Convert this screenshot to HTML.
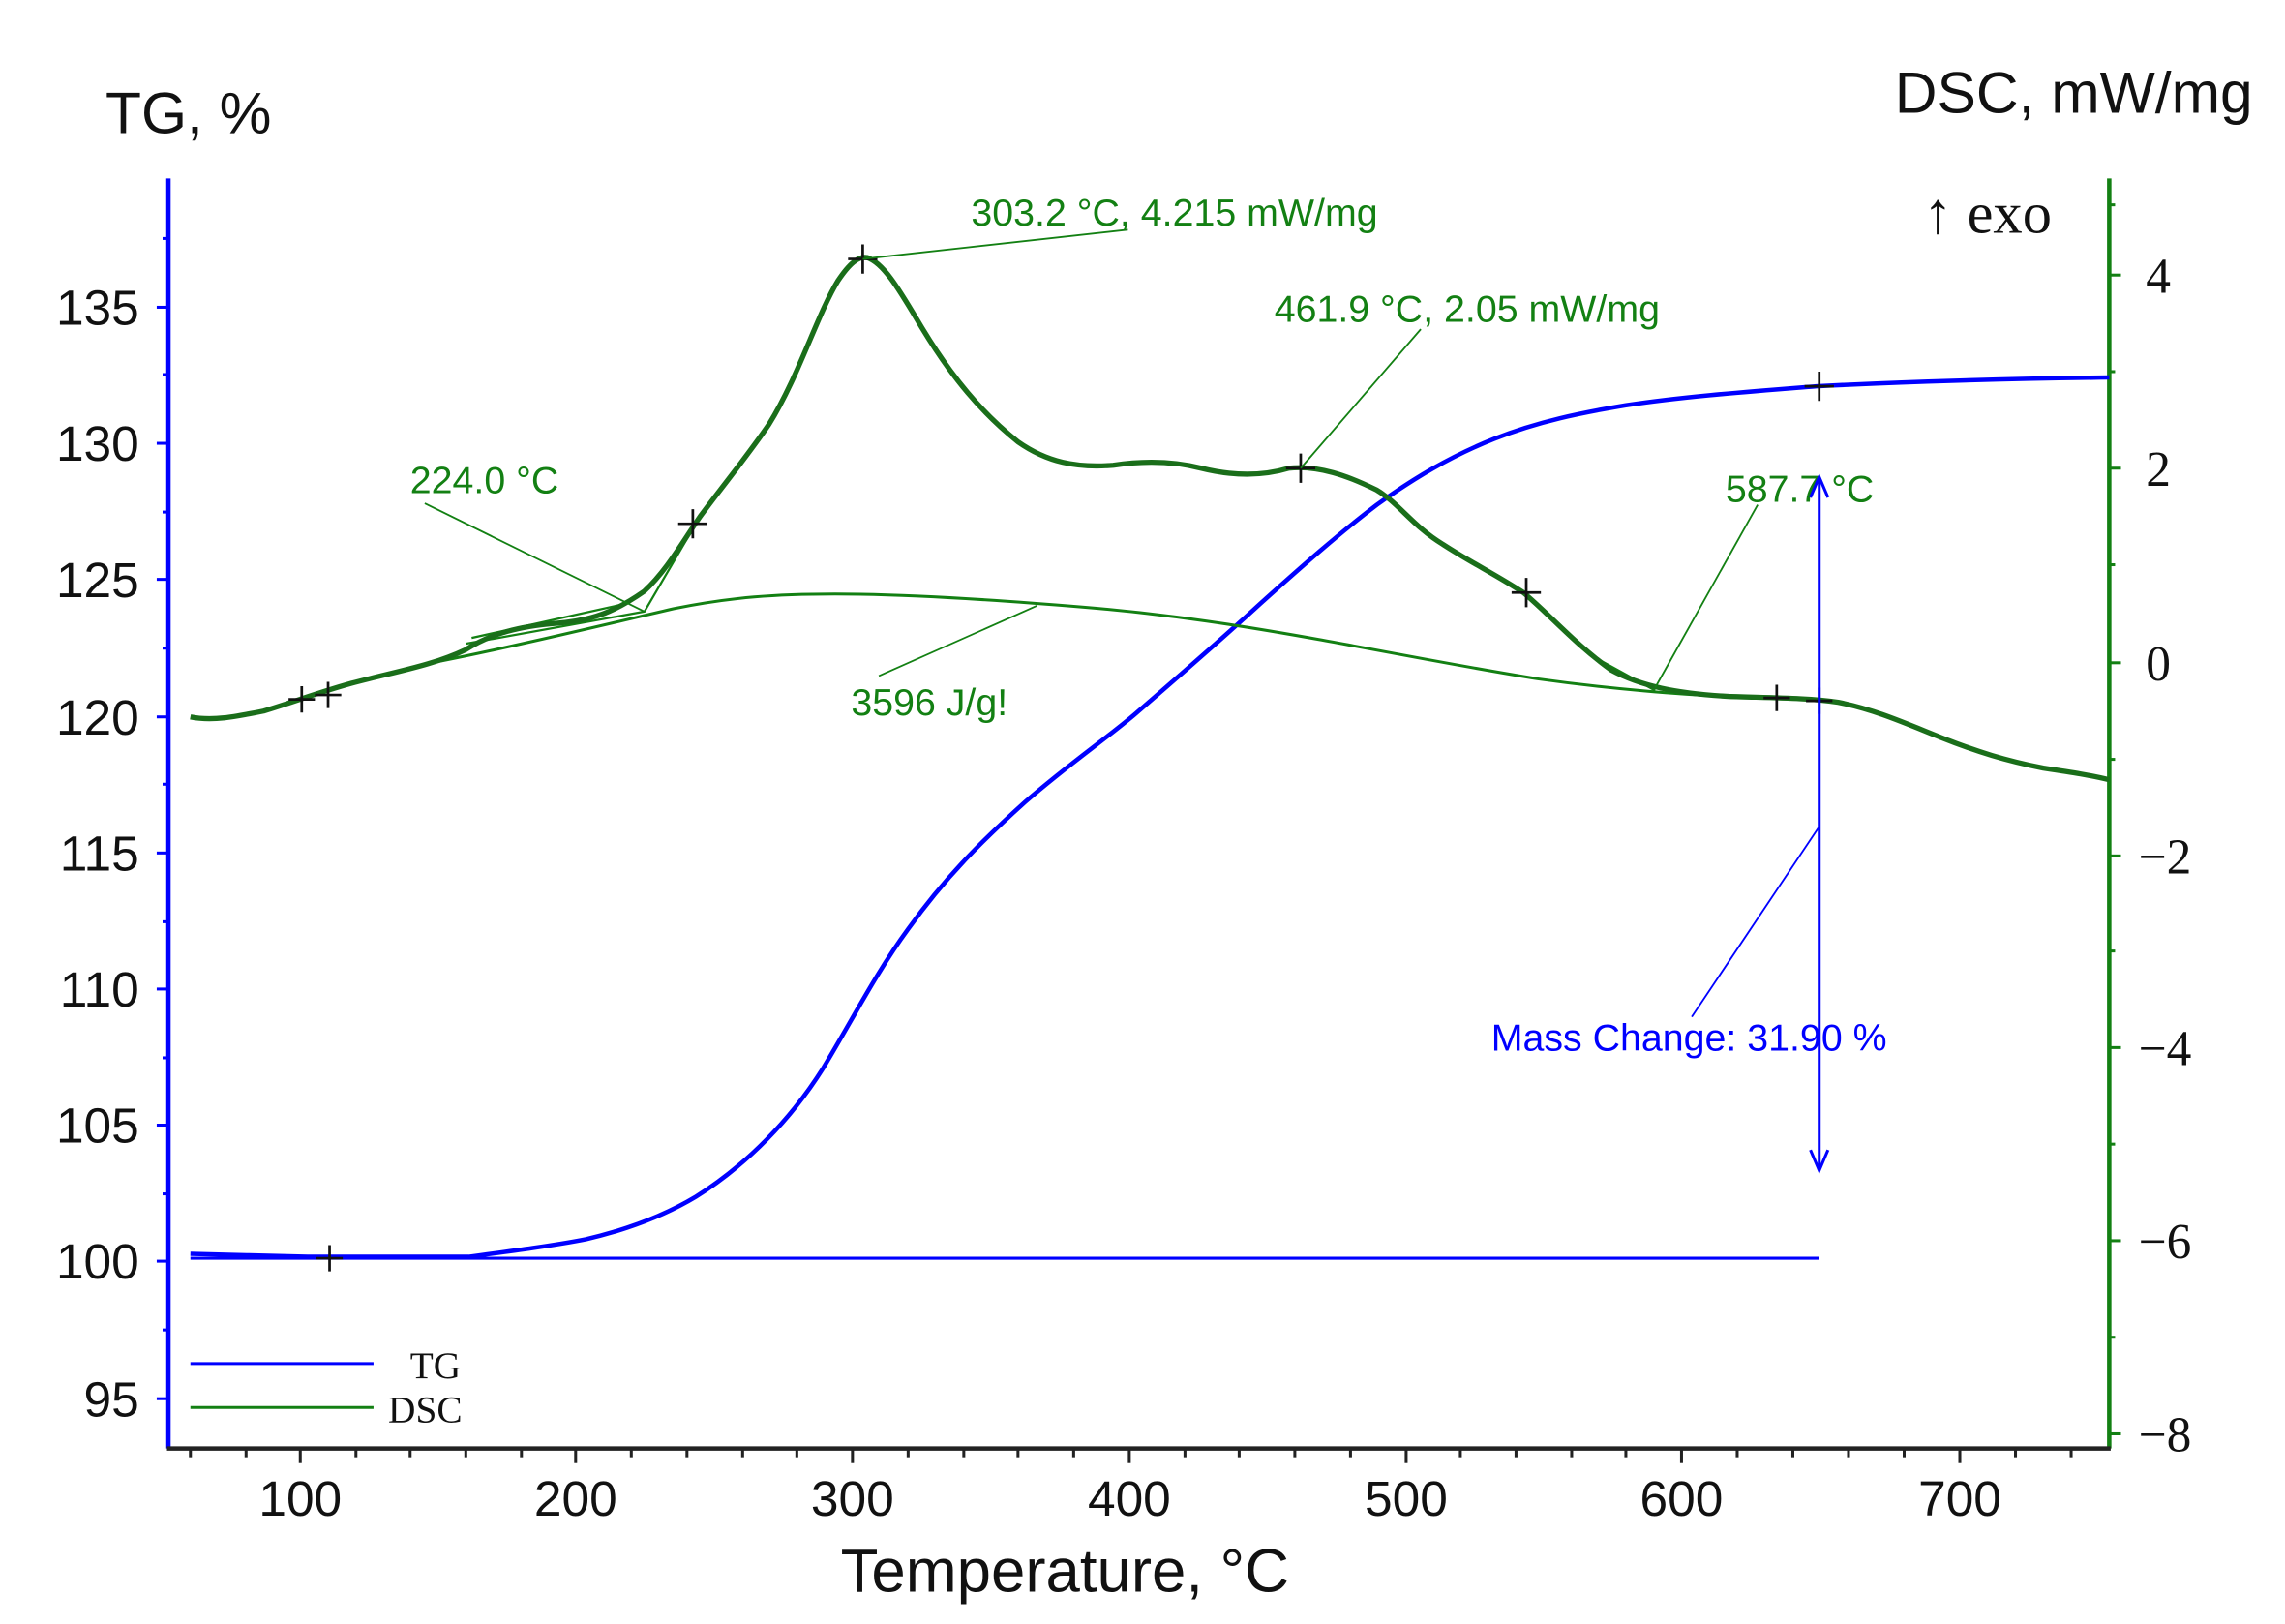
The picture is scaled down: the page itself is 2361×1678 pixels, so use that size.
<!DOCTYPE html>
<html><head><meta charset="utf-8"><style>html,body{margin:0;padding:0;background:#fff;}svg{display:block}</style></head>
<body>
<svg width="2361" height="1678" viewBox="0 0 1560 1110" preserveAspectRatio="none" xmlns="http://www.w3.org/2000/svg">
<rect width="1560" height="1110" fill="#fff"/>
<g font-family="Liberation Sans, sans-serif">
<line x1="115" y1="122" x2="115" y2="990" stroke="#0000ff" stroke-width="3"/>
<line x1="1440" y1="122" x2="1440" y2="990" stroke="#138013" stroke-width="3"/>
<line x1="114" y1="990" x2="1441" y2="990" stroke="#222" stroke-width="3"/>
<g stroke="#222" stroke-width="2">
<line x1="130" y1="990" x2="130" y2="996"/><line x1="168" y1="990" x2="168" y2="996"/>
<line x1="205" y1="990" x2="205" y2="1000"/><line x1="243" y1="990" x2="243" y2="996"/><line x1="280" y1="990" x2="280" y2="996"/><line x1="318" y1="990" x2="318" y2="996"/><line x1="356" y1="990" x2="356" y2="996"/>
<line x1="393" y1="990" x2="393" y2="1000"/><line x1="431" y1="990" x2="431" y2="996"/><line x1="469" y1="990" x2="469" y2="996"/><line x1="507" y1="990" x2="507" y2="996"/><line x1="544" y1="990" x2="544" y2="996"/>
<line x1="582" y1="990" x2="582" y2="1000"/><line x1="620" y1="990" x2="620" y2="996"/><line x1="658" y1="990" x2="658" y2="996"/><line x1="695" y1="990" x2="695" y2="996"/><line x1="733" y1="990" x2="733" y2="996"/>
<line x1="771" y1="990" x2="771" y2="1000"/><line x1="809" y1="990" x2="809" y2="996"/><line x1="846" y1="990" x2="846" y2="996"/><line x1="884" y1="990" x2="884" y2="996"/><line x1="922" y1="990" x2="922" y2="996"/>
<line x1="960" y1="990" x2="960" y2="1000"/><line x1="997" y1="990" x2="997" y2="996"/><line x1="1035" y1="990" x2="1035" y2="996"/><line x1="1073" y1="990" x2="1073" y2="996"/><line x1="1110" y1="990" x2="1110" y2="996"/>
<line x1="1148" y1="990" x2="1148" y2="1000"/><line x1="1186" y1="990" x2="1186" y2="996"/><line x1="1224" y1="990" x2="1224" y2="996"/><line x1="1262" y1="990" x2="1262" y2="996"/><line x1="1300" y1="990" x2="1300" y2="996"/>
<line x1="1338" y1="990" x2="1338" y2="1000"/><line x1="1376" y1="990" x2="1376" y2="996"/><line x1="1414" y1="990" x2="1414" y2="996"/>
</g>
<g stroke="#0000ff" stroke-width="2">
<line x1="107" y1="210" x2="115" y2="210"/><line x1="107" y1="303" x2="115" y2="303"/><line x1="107" y1="396" x2="115" y2="396"/><line x1="107" y1="490" x2="115" y2="490"/><line x1="107" y1="583" x2="115" y2="583"/><line x1="107" y1="676" x2="115" y2="676"/><line x1="107" y1="769" x2="115" y2="769"/><line x1="107" y1="862" x2="115" y2="862"/><line x1="107" y1="956" x2="115" y2="956"/>
<line x1="111" y1="163" x2="115" y2="163"/><line x1="111" y1="256" x2="115" y2="256"/><line x1="111" y1="350" x2="115" y2="350"/><line x1="111" y1="443" x2="115" y2="443"/><line x1="111" y1="536" x2="115" y2="536"/><line x1="111" y1="630" x2="115" y2="630"/><line x1="111" y1="723" x2="115" y2="723"/><line x1="111" y1="816" x2="115" y2="816"/><line x1="111" y1="909" x2="115" y2="909"/>
</g>
<g stroke="#138013" stroke-width="2">
<line x1="1440" y1="188" x2="1448" y2="188"/><line x1="1440" y1="320" x2="1448" y2="320"/><line x1="1440" y1="453" x2="1448" y2="453"/><line x1="1440" y1="585" x2="1448" y2="585"/><line x1="1440" y1="716" x2="1448" y2="716"/><line x1="1440" y1="848" x2="1448" y2="848"/><line x1="1440" y1="980" x2="1448" y2="980"/>
<line x1="1440" y1="254" x2="1444" y2="254"/><line x1="1440" y1="386" x2="1444" y2="386"/><line x1="1440" y1="519" x2="1444" y2="519"/><line x1="1440" y1="650" x2="1444" y2="650"/><line x1="1440" y1="782" x2="1444" y2="782"/><line x1="1440" y1="914" x2="1444" y2="914"/><line x1="1440" y1="140" x2="1444" y2="140"/>
</g>
<g font-size="34" fill="#111" text-anchor="end">
<text x="95" y="222">135</text><text x="95" y="315">130</text><text x="95" y="408">125</text><text x="95" y="502">120</text><text x="95" y="595">115</text><text x="95" y="688">110</text><text x="95" y="781">105</text><text x="95" y="874">100</text><text x="95" y="968">95</text>
</g>
<g font-size="34" fill="#111" text-anchor="middle">
<text x="205" y="1036">100</text><text x="393" y="1036">200</text><text x="582" y="1036">300</text><text x="771" y="1036">400</text><text x="960" y="1036">500</text><text x="1148" y="1036">600</text><text x="1338" y="1036">700</text>
</g>
<g font-family="Liberation Serif, serif" font-size="34" fill="#111">
<text x="1465" y="200">4</text><text x="1465" y="332">2</text><text x="1465" y="465">0</text><text x="1460" y="597">−2</text><text x="1460" y="728">−4</text><text x="1460" y="860">−6</text><text x="1460" y="992">−8</text>
<text x="1313" y="159" font-size="40">↑ exo</text>
<text x="280" y="942" font-size="26">TG</text><text x="265" y="972" font-size="26">DSC</text>
</g>
<text x="72" y="91" font-size="40" fill="#111">TG, %</text>
<text x="1538" y="77" font-size="40" fill="#111" text-anchor="end">DSC, mW/mg</text>
<text x="727" y="1088" font-size="42" fill="#111" text-anchor="middle">Temperature, °C</text>
<line x1="130" y1="932" x2="255" y2="932" stroke="#0000ff" stroke-width="2"/>
<line x1="130" y1="962" x2="255" y2="962" stroke="#138013" stroke-width="2"/>
<line x1="130" y1="860" x2="1242" y2="860" stroke="#0000ff" stroke-width="2"/>
<path d="M130,857 L170,858 L210,859 L320,859 C350,855 380,851 400,847 C430,840 455,830 475,818 C510,796 540,765 562,730 C582,697 598,665 620,635 C645,600 670,575 700,548 C730,522 755,505 775,488 C805,462 835,436 860,413 C890,386 915,362 940,342 C965,322 990,305 1020,312 M940,342 C970,318 995,300 1025,309" fill="none" stroke="none"/>
<path d="M130,857 L170,858 L210,859 L320,859 C350,855 380,851 400,847 C430,840 455,830 475,818 C510,796 540,765 562,730 C582,697 598,665 620,635 C645,600 670,575 700,548 C730,522 755,505 775,488 C805,462 835,436 860,413 C890,386 915,362 940,342 C965,322 990,305 1020,311 " fill="none" stroke="none"/>
<path d="M130,857 L170,858 L210,859 L320,859 C350,855 380,851 400,847 C430,840 455,830 475,818 C510,796 540,765 562,730 C582,697 598,665 620,635 C645,600 670,575 700,548 C730,522 755,505 775,488 C805,462 835,436 860,413 C890,386 915,362 940,342 C965,322 990,304 1020,310 " fill="none" stroke="none"/>
<path d="M130,857 L170,858 L210,859 L320,859 C350,855 380,851 400,847 C430,840 455,830 475,818 C510,796 540,765 562,730 C582,697 598,665 620,635 C645,600 670,575 700,548 C730,522 755,505 775,488 C805,462 835,436 860,413 C890,386 915,362 940,342 C965,322 990,326 1010,318 C1035,302 1060,292 1090,283 C1120,276 1150,271 1190,268 C1220,266 1240,264 1270,262 C1330,259 1380,258 1440,258" fill="none" stroke="none"/>
<path d="M130,857 L170,858 L210,859 L320,859 C350,855 380,851 400,847 C430,840 455,830 475,818 C510,796 540,765 562,730 C582,697 598,665 620,635 C645,600 670,575 700,548 C730,522 755,505 775,488 C805,462 835,436 860,413 C890,386 915,362 940,342 C965,323 985,308 1010,318 " fill="none" stroke="none"/>
<path d="M130,857 L170,858 L210,859 L320,859 C350,855 380,851 400,847 C430,840 455,830 475,818 C510,796 540,765 562,730 C582,697 598,665 620,635 C645,600 670,575 700,548 C730,522 755,505 775,488 C805,462 835,436 860,413 C890,386 915,364 940,345 C965,327 990,312 1020,300 C1050,288 1080,282 1110,277 C1150,271 1190,268 1240,264 C1300,261 1360,259 1440,258" fill="none" stroke="#0000ff" stroke-width="3"/>
<path d="M300,452 C350,442 400,430 460,416 C500,408 530,406 570,406 C620,406 680,410 740,415 C800,420 850,428 900,437 C950,446 1000,456 1050,464 C1100,471 1150,475 1180,476" fill="none" stroke="#138013" stroke-width="2"/>
<path d="M318,440 L440,418 L475,358 M322,436 L430,412 M1040,405 L1090,450 L1130,472" fill="none" stroke="#138013" stroke-width="1.5"/>
<path d="M130,490 C145,493 160,490 180,486 C200,480 215,474 240,467 C270,459 295,455 318,444 C335,433 355,428 380,426 C405,424 420,418 440,404 C455,390 465,372 478,353 C495,330 510,312 525,290 C545,258 558,215 572,192 C580,180 586,175 592,176 C604,180 615,200 630,225 C650,258 670,282 695,302 C715,316 735,320 760,318 C780,315 800,315 820,320 C840,325 860,326 880,320 C900,318 920,325 940,335 C955,344 965,360 985,372 C1005,385 1020,392 1040,405 C1058,420 1075,440 1100,458 C1120,469 1145,474 1180,476 C1210,477 1235,477 1255,480 C1280,485 1300,494 1325,504 C1350,514 1370,520 1395,525 C1415,528 1428,530 1440,533" fill="none" stroke="#1a6e1a" stroke-width="3.5"/>
<g stroke="#111" stroke-width="1.8">
<path d="M197,478h18M206,469v18"/><path d="M215,475h18M224,466v18"/><path d="M463,358h20M473,348v20"/><path d="M579,177h20M589,167v20"/><path d="M878,320h20M888,310v20"/><path d="M1032,405h20M1042,395v20"/><path d="M1204,477h18M1213,468v18"/><path d="M1233,479h18M1242,470v18"/><path d="M1232,264h20M1242,254v20"/><path d="M216,860h18M225,851v18"/>
</g>
<g stroke="#138013" stroke-width="1.2" fill="none">
<line x1="589" y1="177" x2="770" y2="157"/><line x1="888" y1="320" x2="970" y2="225"/><line x1="290" y1="344" x2="440" y2="418"/><line x1="600" y1="462" x2="708" y2="414"/><line x1="1130" y1="470" x2="1200" y2="345"/>
</g>
<g font-size="26" fill="#138013">
<text x="663" y="154">303.2 °C, 4.215 mW/mg</text>
<text x="870" y="220">461.9 °C, 2.05 mW/mg</text>
<text x="280" y="337">224.0 °C</text>
<text x="581" y="489">3596 J/g!</text>
<text x="1178" y="343">587.7 °C</text>
</g>
<line x1="1242" y1="327" x2="1242" y2="798" stroke="#0000ff" stroke-width="2"/>
<path d="M1236,340 L1242,326 L1248,340 M1236,786 L1242,800 L1248,786" fill="none" stroke="#0000ff" stroke-width="2"/>
<line x1="1242" y1="565" x2="1155" y2="695" stroke="#0000ff" stroke-width="1.2"/>
<text x="1018" y="718" font-size="26" fill="#0000ff">Mass Change: 31.90 %</text>
</g>
</svg>
</body></html>
